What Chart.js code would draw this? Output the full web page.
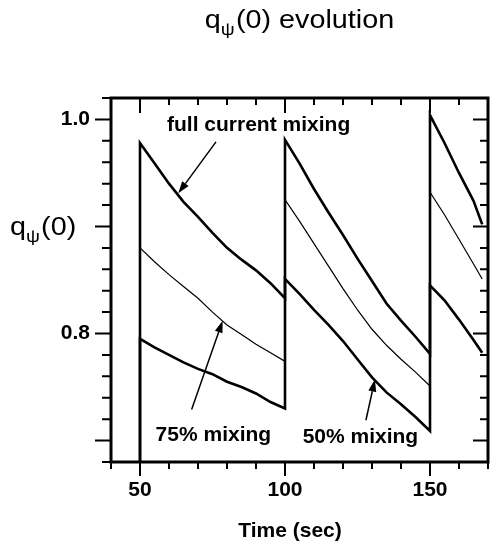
<!DOCTYPE html>
<html>
<head>
<meta charset="utf-8">
<script src="https://cdn.jsdelivr.net/npm/chart.js@4.4.1/dist/chart.umd.min.js"></script>
<style>
  html, body { margin: 0; padding: 0; background: #fff; }
  #wrap { width: 490px; height: 548px; }
</style>
</head>
<body>
<div id="wrap"><canvas id="qChart"></canvas></div>
<script>
// time (sec); the sawtooth resets at 50, 100 and 150 s so those appear twice
const timeSec = [50, 50, 55, 60, 65, 70, 75, 80, 85, 90, 95, 100,
                 100, 105, 110, 115, 120, 125, 130, 135, 140, 145, 150,
                 150, 155, 160, 165, 168];

// q_psi(0) for each mixing model (first value is below the plotted range)
const fullMixQ = [0.66, 0.978, 0.959, 0.940, 0.923, 0.909, 0.894, 0.880, 0.869, 0.859, 0.847, 0.833,
                  0.981, 0.959, 0.935, 0.913, 0.892, 0.870, 0.849, 0.828, 0.812, 0.797, 0.781,
                  1.004, 0.978, 0.950, 0.924, 0.902];
const mix75Q = [0.66, 0.880, 0.867, 0.855, 0.844, 0.833, 0.820, 0.808, 0.799, 0.790, 0.782, 0.774,
                0.925, 0.905, 0.884, 0.863, 0.842, 0.822, 0.804, 0.789, 0.776, 0.764, 0.751,
                0.932, 0.911, 0.888, 0.865, 0.851];
const mix50Q = [0.66, 0.795, 0.787, 0.780, 0.773, 0.767, 0.762, 0.755, 0.750, 0.744, 0.736, 0.730,
                0.851, 0.837, 0.822, 0.808, 0.793, 0.776, 0.759, 0.745, 0.734, 0.722, 0.709,
                0.845, 0.831, 0.813, 0.794, 0.782];

const xTickLabels = [50, 100, 150];
const yTickLabels = [0.8, 1.0];

// text labels with arrows pointing at the curves (data coordinates)
const notes = [
  { text: "full current mixing", at: [90.9, 0.995], from: [76.2, 0.979], to: [63.2, 0.931] },
  { text: "75% mixing", at: [75.3, 0.705], from: [67.8, 0.729], to: [78.5, 0.812] },
  { text: "50% mixing", at: [126.0, 0.703], from: [127.9, 0.719], to: [131.0, 0.757] },
];

const boldFont = 'bold 21px "Liberation Sans", Arial, sans-serif';
const plainFace = '"Liberation Sans", Arial, sans-serif';

function toPoints(values) {
  return timeSec.map((t, i) => ({ x: t, y: values[i] }));
}

// draws "q" + subscript psi + rest, stretched a little horizontally
function drawQText(ctx, left, baseline, rest, size, stretch, center) {
  const big = size + 'px ' + plainFace;
  const small = Math.round(size * 0.68) + 'px ' + plainFace;
  ctx.font = big;
  const wq = ctx.measureText('q').width;
  const wr = ctx.measureText(rest).width;
  ctx.font = small;
  const wp = ctx.measureText('\u03c8').width + 1;
  const total = (wq + wp + wr) * stretch;
  const x0 = center ? left - total / 2 : left;
  ctx.save();
  ctx.translate(x0, baseline);
  ctx.scale(stretch, 1);
  ctx.textAlign = 'left';
  ctx.textBaseline = 'alphabetic';
  ctx.font = big;
  ctx.fillText('q', 0, 0);
  ctx.font = small;
  ctx.fillText('\u03c8', wq, size * 0.28);
  ctx.font = big;
  ctx.fillText(rest, wq + wp, 0);
  ctx.restore();
}

function drawArrow(ctx, x1, y1, x2, y2) {
  const ang = Math.atan2(y2 - y1, x2 - x1);
  const len = 12, half = 4;
  const bx = x2 - len * Math.cos(ang), by = y2 - len * Math.sin(ang);
  ctx.beginPath();
  ctx.moveTo(x1, y1);
  ctx.lineTo(bx, by);
  ctx.stroke();
  ctx.beginPath();
  ctx.moveTo(x2, y2);
  ctx.lineTo(bx + half * Math.sin(ang), by - half * Math.cos(ang));
  ctx.lineTo(bx - half * Math.sin(ang), by + half * Math.cos(ang));
  ctx.closePath();
  ctx.fill();
}

const framePlugin = {
  id: 'framePlugin',
  afterDatasetsDraw(chart) {
    const { ctx, chartArea: a, scales: { x, y } } = chart;
    ctx.save();
    ctx.strokeStyle = '#000';
    ctx.fillStyle = '#000';

    // box
    ctx.lineWidth = 3;
    ctx.strokeRect(a.left, a.top, a.right - a.left, a.bottom - a.top);

    // tick marks: outside on left/bottom, inside on top/right
    ctx.lineWidth = 2;
    ctx.beginPath();
    x.ticks.forEach(t => {
      const px = x.getPixelForValue(t.value);
      const major = Math.abs(t.value % 50) < 1e-6;
      ctx.moveTo(px, a.bottom);
      ctx.lineTo(px, a.bottom + (major ? 14 : 7));
      ctx.moveTo(px, a.top);
      ctx.lineTo(px, a.top + (major ? 15 : 7));
    });
    y.ticks.forEach(t => {
      const py = y.getPixelForValue(t.value);
      const major = Math.abs(t.value * 10 - Math.round(t.value * 10)) < 1e-6;
      ctx.moveTo(a.left, py);
      ctx.lineTo(a.left - (major ? 16 : 9), py);
      ctx.moveTo(a.right, py);
      ctx.lineTo(a.right - (major ? 15 : 8), py);
    });
    ctx.stroke();

    // arrows and their labels
    ctx.lineWidth = 1.5;
    notes.forEach(n => {
      drawArrow(ctx,
        x.getPixelForValue(n.from[0]), y.getPixelForValue(n.from[1]),
        x.getPixelForValue(n.to[0]), y.getPixelForValue(n.to[1]));
      ctx.font = boldFont;
      ctx.textAlign = 'center';
      ctx.textBaseline = 'middle';
      ctx.fillText(n.text, x.getPixelForValue(n.at[0]), y.getPixelForValue(n.at[1]));
    });

    // titles
    drawQText(ctx, (a.left + a.right) / 2, 28, '(0) evolution', 25, 1.15, true);
    drawQText(ctx, 10, 235, '(0)', 25, 1.15, false);
    ctx.font = boldFont;
    ctx.textAlign = 'center';
    ctx.textBaseline = 'alphabetic';
    ctx.fillText('Time (sec)', 290, 537);
    ctx.restore();
  }
};

new Chart(document.getElementById('qChart'), {
  type: 'line',
  data: {
    datasets: [
      {
        label: 'full current mixing',
        data: toPoints(fullMixQ),
        borderColor: '#000',
        borderWidth: 2.6,
      },
      {
        label: '75% mixing',
        data: toPoints(mix75Q),
        borderColor: '#000',
        borderWidth: 1.2,
      },
      {
        label: '50% mixing',
        data: toPoints(mix50Q),
        borderColor: '#000',
        borderWidth: 2.6,
      },
    ],
  },
  options: {
    responsive: true,
    maintainAspectRatio: false,
    animation: false,
    devicePixelRatio: 1,
    layout: { padding: { top: 98, right: 2, left: 0, bottom: 0 } },
    elements: {
      point: { radius: 0 },
      line: { tension: 0, borderCapStyle: 'butt', borderJoinStyle: 'miter' },
    },
    plugins: {
      legend: { display: false },
      tooltip: { enabled: false },
    },
    scales: {
      x: {
        type: 'linear',
        min: 40,
        max: 170,
        grid: { display: false, drawTicks: false },
        border: { display: false },
        ticks: {
          stepSize: 10,
          autoSkip: false,
          maxRotation: 0,
          padding: 16,
          color: '#000',
          font: { family: plainFace, size: 21, weight: 'bold' },
          callback: v => (xTickLabels.includes(v) ? String(v) : ''),
        },
        afterFit: s => {
          s.height = 86;
          s.paddingLeft = 0;
          s.paddingRight = 0;
        },
      },
      y: {
        type: 'linear',
        min: 0.68,
        max: 1.02,
        grid: { display: false, drawTicks: false },
        border: { display: false },
        ticks: {
          stepSize: 0.02,
          autoSkip: false,
          padding: 21,
          color: '#000',
          font: { family: plainFace, size: 21, weight: 'bold' },
          callback: v => {
            const hit = yTickLabels.find(l => Math.abs(l - v) < 1e-6);
            return hit === undefined ? '' : hit.toFixed(1);
          },
        },
        afterFit: s => {
          s.width = 111;
          s.paddingTop = 0;
          s.paddingBottom = 0;
        },
      },
    },
  },
  plugins: [framePlugin],
});
</script>
</body>
</html>
